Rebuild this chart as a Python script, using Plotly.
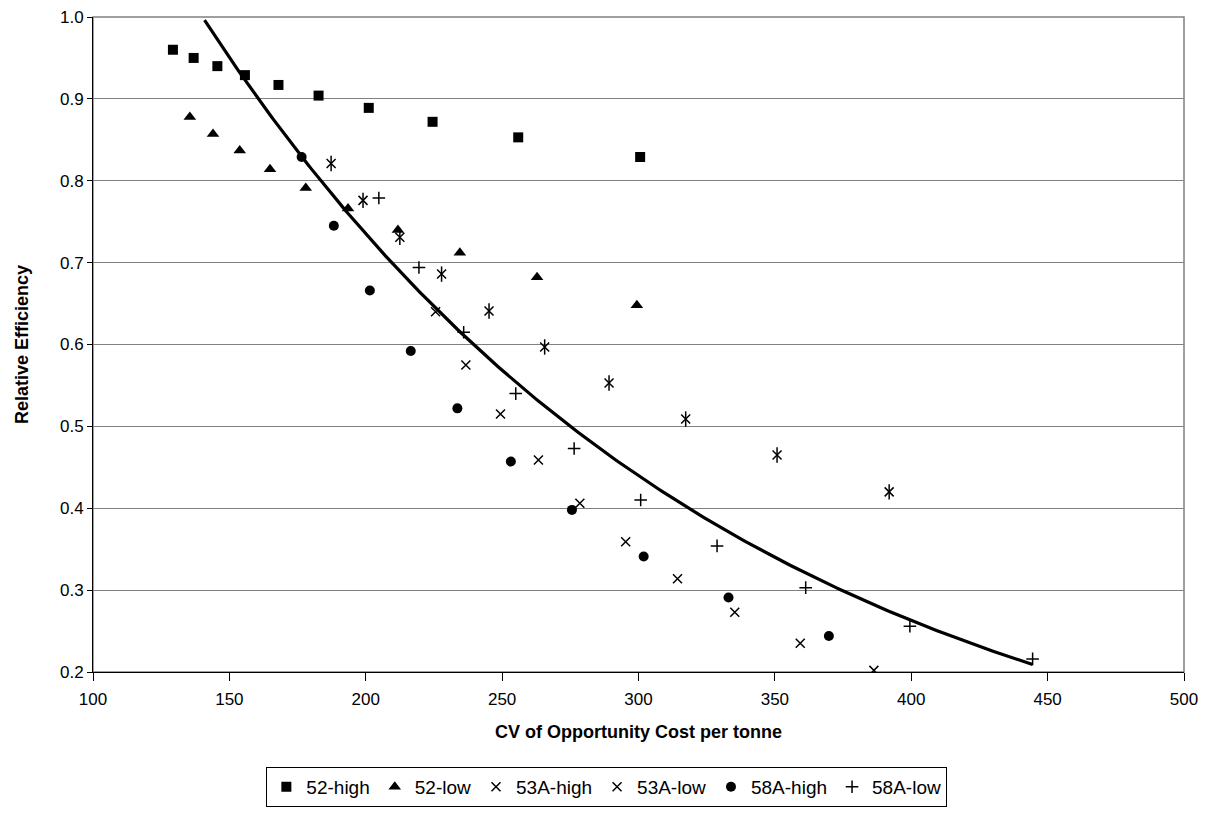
import numpy as np
import plotly.graph_objects as go

# ---- data ----
x_52_high = [129.3, 136.9, 145.6, 155.7, 168.0, 182.7, 201.1, 224.5, 255.9, 300.6]
y_52_high = [0.960, 0.950, 0.940, 0.929, 0.917, 0.904, 0.889, 0.872, 0.853, 0.829]

x_52_low = [135.5, 144.0, 153.8, 164.9, 178.0, 193.5, 211.8, 234.5, 262.8, 299.4]
y_52_low = [0.878, 0.857, 0.837, 0.814, 0.791, 0.766, 0.740, 0.712, 0.682, 0.648]

x_53a_high = [225.6, 236.7, 249.4, 263.3, 278.5, 295.3, 314.3, 335.3, 359.3, 386.3]
y_53a_high = [0.640, 0.575, 0.515, 0.459, 0.406, 0.359, 0.314, 0.273, 0.235, 0.202]

x_53a_low = [187.3, 199.0, 212.5, 227.8, 245.2, 265.6, 289.2, 317.3, 350.8, 391.9]
y_53a_low = [0.821, 0.776, 0.731, 0.686, 0.641, 0.597, 0.553, 0.509, 0.465, 0.420]

x_58a_high = [176.5, 188.3, 201.5, 216.5, 233.6, 253.2, 275.6, 301.9, 333.0, 369.8]
y_58a_high = [0.829, 0.745, 0.666, 0.592, 0.522, 0.457, 0.398, 0.341, 0.291, 0.244]

x_58a_low = [204.8, 219.5, 235.9, 255.0, 276.4, 300.8, 328.8, 361.3, 399.5, 444.5]
y_58a_low = [0.779, 0.694, 0.615, 0.540, 0.473, 0.410, 0.354, 0.303, 0.256, 0.216]

# exponential trend line y = A * exp(B * x)
trend_A = 2.055
trend_B = -0.00514

x_ticks = [100, 150, 200, 250, 300, 350, 400, 450, 500]
y_ticks = [0.2, 0.3, 0.4, 0.5, 0.6, 0.7, 0.8, 0.9, 1.0]

FONT = "Liberation Sans, Arial, sans-serif"

fig = go.Figure()

all_x = np.array(x_52_high + x_52_low + x_53a_high + x_53a_low + x_58a_high + x_58a_low)
tx = np.linspace(all_x.min(), all_x.max(), 300)
ty = trend_A * np.exp(trend_B * tx)
mask = ty <= 1.0
fig.add_trace(go.Scatter(x=tx[mask], y=ty[mask], mode="lines",
                         line=dict(color="black", width=3.2), showlegend=False,
                         hoverinfo="skip"))

def add(xs, ys, name, symbol, size, open_=False, lw=1.5, show=True, group=None):
    if open_:
        marker = dict(symbol=symbol, size=size, color="black",
                      line=dict(color="black", width=lw))
    else:
        marker = dict(symbol=symbol, size=size, color="black",
                      line=dict(color="black", width=0))
    fig.add_trace(go.Scatter(x=xs, y=ys, mode="markers", name=name,
                             marker=marker, showlegend=show,
                             legendgroup=group or name))

add(x_52_high, y_52_high, "52-high", "square", 10)
add(x_52_low, y_52_low, "52-low", "triangle-up", 11)
add(x_53a_high, y_53a_high, "53A-high", "x-thin-open", 9, open_=True)
add(x_53a_low, y_53a_low, "53A-low", "x-thin-open", 9, open_=True)
add(x_53a_low, y_53a_low, "53A-low", "line-ns-open", 11, open_=True, show=False,
    group="53A-low")
add(x_58a_high, y_58a_high, "58A-high", "circle", 10)
add(x_58a_low, y_58a_low, "58A-low", "cross-thin-open", 9, open_=True)

fig.update_layout(
    width=1200, height=805,
    margin=dict(l=85, r=24, t=9, b=141, autoexpand=False),
    paper_bgcolor="white", plot_bgcolor="white",
    font=dict(family=FONT, size=17, color="black"),
    showlegend=True,
    legend=dict(orientation="h", x=0.471, xanchor="center", y=-0.145,
                yanchor="top", bordercolor="black", borderwidth=1,
                font=dict(family=FONT, size=19), itemwidth=30,
                tracegroupgap=0, bgcolor="white"),
    shapes=[dict(type="rect", xref="paper", yref="paper", x0=0, x1=1, y0=0, y1=1,
                 line=dict(color="#808080", width=1.5), layer="below")],
)
fig.update_xaxes(range=[100, 500], tickvals=x_ticks, ticktext=[str(v) for v in x_ticks],
                 showgrid=False, zeroline=False, showline=True, linecolor="black",
                 linewidth=1, ticks="outside", ticklen=8, tickcolor="black",
                 tickfont=dict(size=17), ticklabelstandoff=4,
                 ticklabeloverflow="allow", automargin=False,
                 title=dict(text="<b>CV of Opportunity Cost per tonne</b>",
                            font=dict(size=18), standoff=16))
fig.update_yaxes(range=[0.2, 1.0], tickvals=y_ticks, ticktext=[f"{v:.1f}" for v in y_ticks],
                 showgrid=True, gridcolor="#808080", gridwidth=1, zeroline=False,
                 showline=True, linecolor="black", linewidth=1, ticks="outside",
                 ticklen=5, tickcolor="black", tickfont=dict(size=17),
                 ticklabeloverflow="allow", automargin=False,
                 title=dict(text="<b>Relative Efficiency</b>", font=dict(size=18),
                            standoff=26))

fig.write_html("out.html")
